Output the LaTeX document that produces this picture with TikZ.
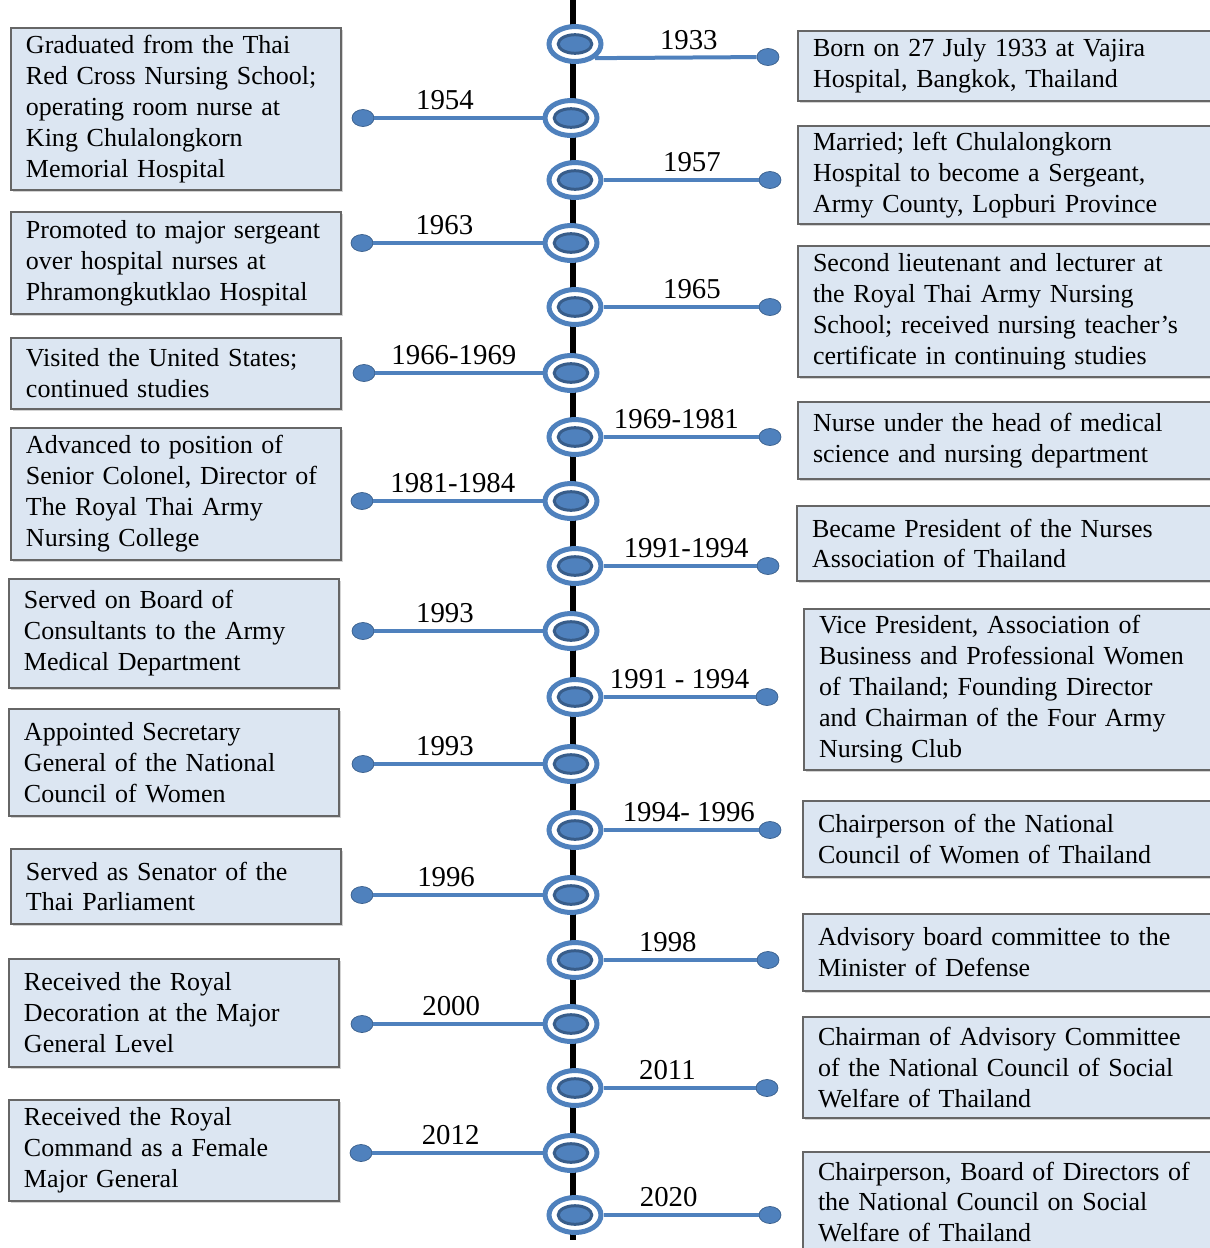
\documentclass[tikz,border=0pt]{standalone}
\usepackage{fontspec}
\setmainfont{Liberation Serif}
\definecolor{TimeBlue}{RGB}{79, 129, 189}
\definecolor{TimeDark}{RGB}{56, 93, 138}
\definecolor{BoxFill}{RGB}{220, 230, 242}
\usetikzlibrary{shapes.geometric, shadows}
\newcommand\evfont{\fontsize{14.8}{17.6}\selectfont}
\newcommand\yrfont{\fontsize{16.4}{18}\selectfont}
\tikzset{
  evbox/.style={rectangle, draw=black!60, line width=0.04cm, fill=BoxFill,
                drop shadow={shadow xshift=0.04cm, shadow yshift=-0.04cm, opacity=0.35},
                anchor=north west, align=left, inner xsep=0.3cm, inner ysep=2pt,
                font=\evfont, text=black},
  lbox/.style={evbox, text width=6cm},
  rbox/.style={evbox, text width=8cm},
  marker/.style={ellipse, draw=TimeBlue, line width=0.1cm, fill=white,
                 minimum width=1.04cm, minimum height=0.70cm, inner sep=0pt,
                 path picture={\draw[TimeDark, fill=TimeBlue, line width=0.06cm]
                   (path picture bounding box.center) ellipse [x radius=0.336cm, y radius=0.186cm];}},
  pin/.style={ellipse, draw=TimeDark, line width=0.4pt, fill=TimeBlue,
              minimum width=0.44cm, minimum height=0.34cm, inner sep=0pt},
  stem/.style={draw=TimeBlue, line width=0.08cm},
  yr/.style={midway, above, inner sep=3.5pt, font=\yrfont},
}

\begin{document}
\begin{tikzpicture}[x=0.02cm, y=-0.02cm]
  \useasboundingbox (0,0) rectangle (1210,1248);

  % axis
  \coordinate (top) at (573,0);
  \coordinate (bot) at (573,1240);
  \draw[line width=0.12cm] (top) -- (bot);

  % left column
  \node[lbox, minimum height=3.24cm] (grad) at (10,27)
       {Graduated from the Thai\\Red Cross Nursing School;\\operating room nurse at\\King Chulalongkorn\\Memorial Hospital};
  \node[lbox, minimum height=2.04cm] (major) at (10,211)
       {Promoted to major sergeant\\over hospital nurses at\\Phramongkutklao Hospital};
  \node[lbox, minimum height=1.42cm] (usa) at (10,337)
       {Visited the United States;\\continued studies};
  \node[lbox, minimum height=2.64cm] (colonel) at (10,427)
       {Advanced to position of\\Senior Colonel, Director of\\The Royal Thai Army\\Nursing College};
  \node[lbox, minimum height=2.18cm] (board) at (8,578)
       {Served on Board of\\Consultants to the Army\\Medical Department};
  \node[lbox, minimum height=2.14cm] (secgen) at (8,708)
       {Appointed Secretary\\General of the National\\Council of Women};
  \node[lbox, minimum height=1.50cm] (senate) at (10,848)
       {Served as Senator of the\\Thai Parliament};
  \node[lbox, minimum height=2.16cm] (decor) at (8,958)
       {Received the Royal\\Decoration at the Major\\General Level};
  \node[lbox, minimum height=2.02cm] (command) at (8,1099)
       {Received the Royal\\Command as a Female\\Major General};

  % right column
  \node[rbox, minimum height=1.40cm] (born) at (797,30)
       {Born on 27 July 1933 at Vajira\\Hospital, Bangkok, Thailand};
  \node[rbox, minimum height=1.96cm] (wed) at (797,125)
       {Married; left Chulalongkorn\\Hospital to become a Sergeant,\\Army County, Lopburi Province};
  \node[rbox, minimum height=2.62cm] (lect) at (797,245)
       {Second lieutenant and lecturer at\\the Royal Thai Army Nursing\\School; received nursing teacher’s\\certificate in continuing studies};
  \node[rbox, minimum height=1.54cm] (nurse) at (797,401)
       {Nurse under the head of medical\\science and nursing department};
  \node[rbox, minimum height=1.50cm] (pres) at (796,505)
       {Became President of the Nurses\\Association of Thailand};
  \node[rbox, minimum height=3.22cm] (bpw) at (803,608)
       {Vice President, Association of\\Business and Professional Women\\of Thailand; Founding Director\\and Chairman of the Four Army\\Nursing Club};
  \node[rbox, minimum height=1.52cm] (ncwt) at (802,800)
       {Chairperson of the National\\Council of Women of Thailand};
  \node[rbox, minimum height=1.54cm] (advdef) at (802,913)
       {Advisory board committee to the\\Minister of Defense};
  \node[rbox, minimum height=2.02cm] (cass) at (802,1016)
       {Chairman of Advisory Committee\\of the National Council of Social\\Welfare of Thailand};
  \node[rbox, minimum height=2.00cm] (ncsw) at (802,1151)
       {Chairperson, Board of Directors of\\the National Council on Social\\Welfare of Thailand};

  % markers and pins
  \node[marker] (t1)  at (575,44)   {};
  \node[pin]    (d1)  at (768,57)   {};
  \draw[stem] (t1.south east) -- node[yr, pos=0.58] {1933} (d1);

  \node[marker] (t2)  at (571,118)  {};
  \node[pin]    (d2)  at (363,118)  {};
  \draw[stem] (d2) -- node[yr, pos=0.42] {1954} (t2);

  \node[marker] (t3)  at (575,180)  {};
  \node[pin]    (d3)  at (770,180)  {};
  \draw[stem] (t3) -- node[yr, pos=0.57] {1957} (d3);

  \node[marker] (t4)  at (571,243)  {};
  \node[pin]    (d4)  at (362,243)  {};
  \draw[stem] (d4) -- node[yr, pos=0.42] {1963} (t4);

  \node[marker] (t5)  at (575,307)  {};
  \node[pin]    (d5)  at (770,307)  {};
  \draw[stem] (t5) -- node[yr, pos=0.57] {1965} (d5);

  \node[marker] (t6)  at (571,373)  {};
  \node[pin]    (d6)  at (364,373)  {};
  \draw[stem] (d6) -- node[yr, pos=0.47] {1966-1969} (t6);

  \node[marker] (t7)  at (575,437)  {};
  \node[pin]    (d7)  at (770,437)  {};
  \draw[stem] (t7) -- node[yr, pos=0.47] {1969-1981} (d7);

  \node[marker] (t8)  at (571,501)  {};
  \node[pin]    (d8)  at (362,501)  {};
  \draw[stem] (d8) -- node[yr, pos=0.47] {1981-1984} (t8);

  \node[marker] (t9)  at (575,566)  {};
  \node[pin]    (d9)  at (768,566)  {};
  \draw[stem] (t9) -- node[yr, pos=0.54] {1991-1994} (d9);

  \node[marker] (t10) at (571,631)  {};
  \node[pin]    (d10) at (363,631)  {};
  \draw[stem] (d10) -- node[yr, pos=0.42] {1993} (t10);

  \node[marker] (t11) at (575,697)  {};
  \node[pin]    (d11) at (767,697)  {};
  \draw[stem] (t11) -- node[yr] {1991 - 1994} (d11);

  \node[marker] (t12) at (571,764)  {};
  \node[pin]    (d12) at (363,764)  {};
  \draw[stem] (d12) -- node[yr, pos=0.42] {1993} (t12);

  \node[marker] (t13) at (575,830)  {};
  \node[pin]    (d13) at (770,830)  {};
  \draw[stem] (t13) -- node[yr, pos=0.55] {1994- 1996} (d13);

  \node[marker] (t14) at (571,895)  {};
  \node[pin]    (d14) at (362,895)  {};
  \draw[stem] (d14) -- node[yr, pos=0.43] {1996} (t14);

  \node[marker] (t15) at (575,960)  {};
  \node[pin]    (d15) at (768,960)  {};
  \draw[stem] (t15) -- node[yr, pos=0.42] {1998} (d15);

  \node[marker] (t16) at (571,1024) {};
  \node[pin]    (d16) at (362,1024) {};
  \draw[stem] (d16) -- node[yr, pos=0.46] {2000} (t16);

  \node[marker] (t17) at (575,1088) {};
  \node[pin]    (d17) at (767,1088) {};
  \draw[stem] (t17) -- node[yr, pos=0.42] {2011} (d17);

  \node[marker] (t18) at (571,1153) {};
  \node[pin]    (d18) at (361,1153) {};
  \draw[stem] (d18) -- node[yr, pos=0.46] {2012} (t18);

  \node[marker] (t19) at (575,1215) {};
  \node[pin]    (d19) at (770,1215) {};
  \draw[stem] (t19) -- node[yr, pos=0.42] {2020} (d19);
\end{tikzpicture}
\end{document}
